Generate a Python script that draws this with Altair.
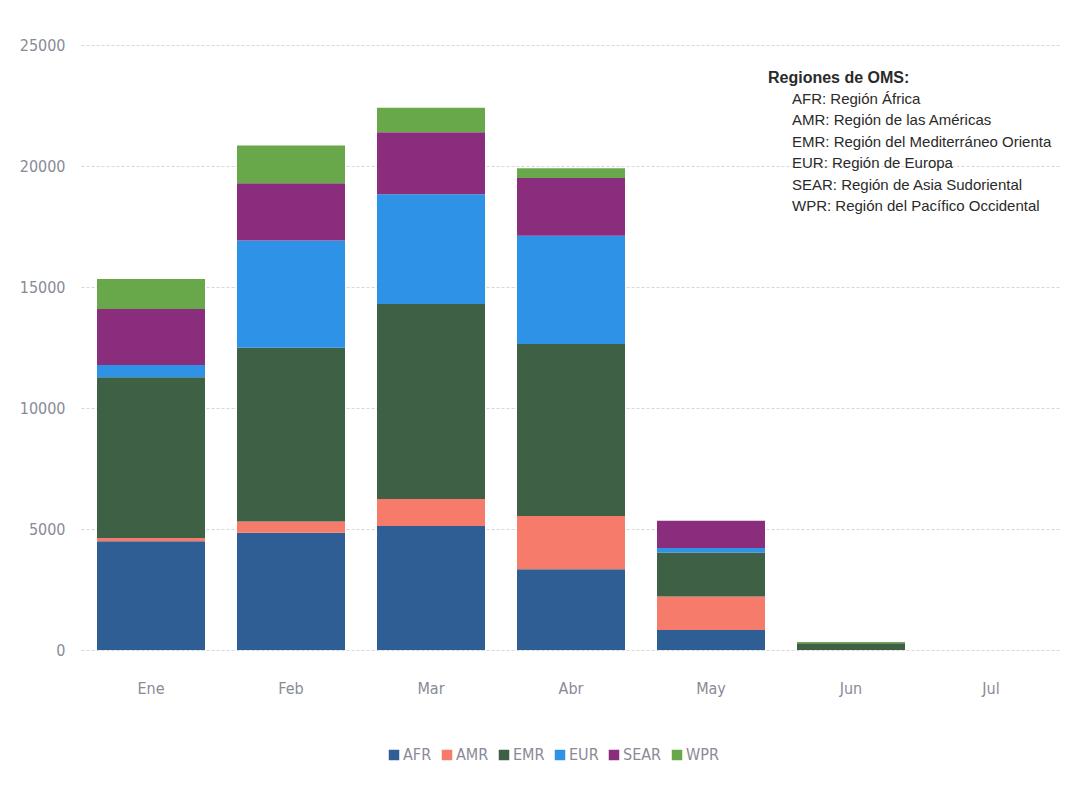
import altair as alt
import pandas as pd

# Monthly cases by WHO region
months = ["Ene", "Feb", "Mar", "Abr", "May", "Jun", "Jul"]
regions = ["AFR", "AMR", "EMR", "EUR", "SEAR", "WPR"]

afr = [4490, 4840, 5120, 3340, 830, 0, 0]
amr = [140, 470, 1120, 2200, 1380, 0, 0]
emr = [6640, 7180, 8060, 7100, 1820, 280, 0]
eur = [510, 4430, 4530, 4480, 180, 0, 0]
sear = [2310, 2370, 2560, 2380, 1130, 0, 0]
wpr = [1240, 1560, 1020, 410, 0, 50, 0]

colors = ["#2f5e95", "#f77b6b", "#3e6045", "#2e93e6", "#8b2d7d", "#68a84b"]

region_notes = [
    "AFR: Región África",
    "AMR: Región de las Américas",
    "EMR: Región del Mediterráneo Orienta",
    "EUR: Región de Europa",
    "SEAR: Región de Asia Sudoriental",
    "WPR: Región del Pacífico Occidental",
]

series = [afr, amr, emr, eur, sear, wpr]
rows = []
for r_i, (name, vals) in enumerate(zip(regions, series)):
    for m, v in zip(months, vals):
        rows.append({"mes": m, "region": name, "casos": v, "orden": r_i})
df = pd.DataFrame(rows)

label_font = "DejaVu Sans Condensed"

bars = alt.Chart(df).mark_bar(size=108).encode(
    x=alt.X("mes:N", sort=months, title=None,
            scale=alt.Scale(paddingInner=0.23, paddingOuter=0.115),
            axis=alt.Axis(labelAngle=0, ticks=False, domain=False, grid=False,
                          labelPadding=30, labelFontSize=16, labelColor="#8a8a96",
                          labelFont=label_font, labelFontWeight=300)),
    y=alt.Y("casos:Q", title=None, stack="zero",
            scale=alt.Scale(domain=[0, 25000], nice=False),
            axis=alt.Axis(values=[0, 5000, 10000, 15000, 20000, 25000], format="d",
                          ticks=False, domain=False, labelPadding=16,
                          labelFontSize=16, labelColor="#8a8a96", labelFont=label_font,
                          labelFontWeight=300,
                          gridColor="#d6d6de", gridDash=[3, 2], gridWidth=1)),
    color=alt.Color("region:N", sort=regions,
                    scale=alt.Scale(domain=regions, range=colors),
                    legend=alt.Legend(title=None, orient="none", direction="horizontal",
                                      legendX=305, legendY=702, symbolType="square",
                                      symbolSize=110, symbolStrokeWidth=0,
                                      labelFontSize=16, labelColor="#8a8a96",
                                      labelFont=label_font, labelFontWeight=300,
                                      labelOffset=1, columnPadding=7)),
    order=alt.Order("orden:Q", sort="ascending"),
)

header = alt.Chart(pd.DataFrame({"t": ["Regiones de OMS:"]})).mark_text(
    align="left", baseline="middle", fontSize=16, fontWeight="bold",
    font="Liberation Sans, Arial, sans-serif", color="#2a2a2a",
).encode(x=alt.value(687), y=alt.value(33), text="t:N")

notes = alt.Chart(pd.DataFrame({"t": ["\n".join(region_notes)]})).mark_text(
    align="left", baseline="top", fontSize=15, lineHeight=21.4, lineBreak="\n",
    font="Liberation Sans, Arial, sans-serif", color="#2a2a2a",
).encode(x=alt.value(711), y=alt.value(47), text="t:N")

chart = alt.layer(bars, header, notes).properties(
    width=980, height=605,
    autosize=alt.AutoSizeParams(type="none"),
    padding={"left": 81, "top": 45, "right": 15, "bottom": 152},
    background="white",
).configure_view(stroke=None)

chart.save("out.html", embed_options={"renderer": "svg", "actions": False})
